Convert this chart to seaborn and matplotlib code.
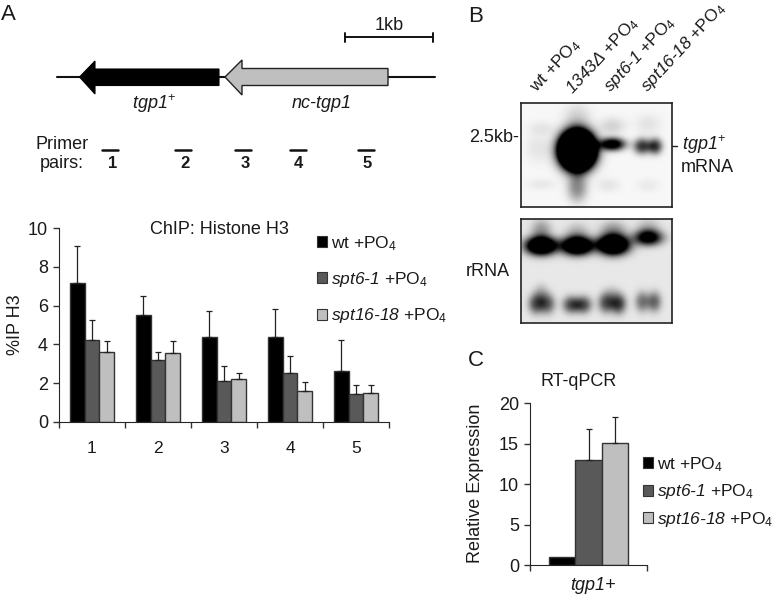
import numpy as np
import pandas as pd
import seaborn as sns
import matplotlib
matplotlib.use("Agg")
import matplotlib.pyplot as plt
from matplotlib.patches import Polygon, Rectangle

W, H = 777, 596

# panel A
primers = ["1", "2", "3", "4", "5"]
strain_labels = ["wt +PO$_4$", "$\\mathcal{spt6\u20101}$ +PO$_4$", "$\\mathcal{spt16\u201018}$ +PO$_4$"]
wt_ip = [7.15, 5.5, 4.4, 4.4, 2.6]
spt6_ip = [4.25, 3.2, 2.1, 2.5, 1.45]
spt16_ip = [3.6, 3.55, 2.2, 1.6, 1.5]
wt_err = [1.95, 1.0, 1.3, 1.45, 1.6]
spt6_err = [1.0, 0.4, 0.8, 0.9, 0.45]
spt16_err = [0.55, 0.6, 0.3, 0.45, 0.4]

# panel C
gene = ["tgp1+"]
expr = [1.0, 13.0, 15.1]
expr_err = [0.0, 3.8, 3.2]

bar_colors = ["#000000", "#595959", "#BFBFBF"]

# blot bands: lane x, y, sigma x, sigma y, strength (figure pixels)
mrna_bands = [(577, 150, 11, 12, 6.0), (612, 144, 9, 4.5, 1.2),
              (642, 146, 6, 5.5, 0.75), (655, 146, 5, 5.5, 0.75),
              (577, 187, 7, 10, 0.42), (577, 118, 9, 10, 0.14), (612, 126, 9, 6, 0.14),
              (648, 124, 9, 7, 0.08), (541, 128, 9, 5, 0.07), (538, 148, 9, 10, 0.07),
              (541, 184, 10, 4, 0.06), (608, 185, 8, 5, 0.07), (648, 185, 8, 5, 0.05)]
rrna_bands = [(541, 246, 11, 6.5, 1.7), (577, 246, 11, 6.5, 1.7), (613, 245, 11, 7, 1.9),
              (648, 238, 10, 5.5, 1.1), (541, 230, 7, 7, 0.3), (577, 232, 8, 6, 0.2),
              (613, 230, 9, 6, 0.3), (648, 228, 8, 6, 0.2),
              (536, 304, 5.5, 7, 0.6), (547, 304, 5.5, 7, 0.55), (571, 305, 6, 6, 0.6), (583, 305, 6, 6, 0.6),
              (606, 303, 5.5, 7, 0.6), (618, 304, 5.5, 7, 0.7), (642, 302, 5, 7, 0.45), (654, 302, 5, 7, 0.5),
              (541, 293, 5, 6, 0.2), (612, 293, 5, 5, 0.12)]

FS = 13
LEG_FS = 12.5


def px_axes(fig, x0, y0, x1, y1, **kw):
    # y counted from the top of the picture
    return fig.add_axes([x0 / W, 1 - y1 / H, (x1 - x0) / W, (y1 - y0) / H], **kw)


def grouped_bars(ax, df, x, y, errs, width):
    sns.barplot(data=df, x=x, y=y, hue="strain", hue_order=strain_labels, palette=bar_colors,
                width=width, gap=0, errorbar=None, edgecolor="#333333", linewidth=1,
                saturation=1, legend=False, ax=ax)
    # container order is the hue order
    for bars, err in zip(ax.containers, errs):
        for patch, e in zip(bars, err):
            if e > 0:
                cx = patch.get_x() + patch.get_width() / 2
                ax.errorbar(cx, patch.get_height(), yerr=[[0], [e]], color="#222222",
                            elinewidth=0.9, capsize=2.2, capthick=0.9, zorder=1)


def add_legend(ax, overlay, x, y, spacing):
    handles = [Rectangle((0, 0), 1, 1, fc=c, ec="#333333", lw=0.8) for c in bar_colors]
    ax.legend(handles, strain_labels, loc="upper left", bbox_to_anchor=(x, y),
              bbox_transform=overlay.transData, frameon=False, fontsize=LEG_FS, borderpad=0,
              borderaxespad=0, labelspacing=spacing, handlelength=0.6, handleheight=0.6,
              handletextpad=0.2)


def blot(fig, x0, y0, x1, y1, bands, bg):
    ax = px_axes(fig, x0, y0, x1, y1)
    xx, yy = np.meshgrid(np.arange(x0, x1, 0.5), np.arange(y0, y1, 0.5))
    img = np.full(xx.shape, bg)
    for bx, by, sx, sy, amp in bands:
        r2 = ((xx - bx) / sx) ** 2 / 2 + ((yy - by) / sy) ** 2 / 2
        img = img + amp * np.exp(-r2 ** 1.15)
    ax.imshow(np.clip(img, 0, 1), cmap="gray_r", vmin=0, vmax=1, aspect="auto",
              extent=[x0, x1, y1, y0], interpolation="bilinear")
    ax.set_xticks([])
    ax.set_yticks([])
    for s in ax.spines.values():
        s.set_visible(True)
        s.set_linewidth(1.2)
        s.set_color("#222222")


sns.set_style("ticks")
plt.rcParams["font.family"] = ["Liberation Sans", "DejaVu Sans"]
plt.rcParams["mathtext.fontset"] = "custom"
plt.rcParams["mathtext.rm"] = "Liberation Sans"
plt.rcParams["mathtext.it"] = "Liberation Sans:italic"
plt.rcParams["mathtext.cal"] = "Liberation Sans:italic"
plt.rcParams["mathtext.bf"] = "Liberation Sans:bold"
plt.rcParams["text.color"] = "#1a1a1a"

fig = plt.figure(figsize=(W / 100, H / 100), dpi=100)

# overlay in picture pixels for the schematic and free labels
ov = fig.add_axes([0, 0, 1, 1], zorder=5)
ov.set_xlim(0, W)
ov.set_ylim(H, 0)
ov.axis("off")
ov.patch.set_alpha(0)

# --- A: bars
df_a = pd.DataFrame({
    "primer": primers * 3,
    "strain": np.repeat(strain_labels, 5),
    "ip": wt_ip + spt6_ip + spt16_ip,
})
ax_a = px_axes(fig, 59, 228.3, 389, 421.7)
grouped_bars(ax_a, df_a, "primer", "ip", [wt_err, spt6_err, spt16_err], 0.68)
ax_a.set_xlim(-0.5, 4.5)
ax_a.set_ylim(0, 10)
ax_a.set_yticks([0, 2, 4, 6, 8, 10])
ax_a.set_xticks(np.arange(-0.5, 5), minor=True)
ax_a.tick_params(axis="x", which="major", length=0, pad=14, labelsize=12.5, colors="#1a1a1a")
ax_a.tick_params(axis="x", which="minor", length=4, width=1, direction="out", color="#333333")
ax_a.tick_params(axis="y", length=4, width=1, pad=4, labelsize=FS, color="#333333", labelcolor="#1a1a1a")
ax_a.set_xlabel("")
ax_a.set_ylabel("")
sns.despine(ax=ax_a)
add_legend(ax_a, ov, 317, 234, 1.0)
ov.text(219, 230, "ChIP: Histone H3", ha="center", va="center", fontsize=FS)
ov.text(15, 325, "%IP H3", rotation=90, ha="center", va="center", fontsize=FS)

# --- C: bars
df_c = pd.DataFrame({"gene": gene * 3, "strain": strain_labels, "expr": expr})
ax_c = px_axes(fig, 530, 403, 647, 565.3)
grouped_bars(ax_c, df_c, "gene", "expr", [[e] for e in expr_err], 0.67)
ax_c.set_xlim(-0.5, 0.5)
ax_c.set_ylim(0, 20)
ax_c.set_yticks([0, 5, 10, 15, 20])
ax_c.set_xticks([])
ax_c.set_xticks([-0.5, 0.5], minor=True)
ax_c.tick_params(axis="x", which="minor", length=4, width=1, direction="out", color="#333333")
ax_c.tick_params(axis="y", length=4, width=1, pad=4, labelsize=FS, color="#333333", labelcolor="#1a1a1a")
ax_c.set_xlabel("")
ax_c.set_ylabel("")
sns.despine(ax=ax_c)
add_legend(ax_c, ov, 643, 455, 0.5)
ov.text(579, 382, "RT-qPCR", ha="center", va="center", fontsize=FS)
ov.text(476, 483, "Relative Expression", rotation=90, ha="center", va="center", fontsize=FS)
ov.text(593, 586, "tgp1+", style="italic", ha="center", va="center", fontsize=FS)

# --- B: blots
blot(fig, 521, 103, 672, 207, mrna_bands, 0.03)
blot(fig, 521, 218.5, 672, 322.5, rrna_bands, 0.09)

blot_labels = ["wt +PO$_4$", "$\\mathcal{1343\u0394}$ +PO$_4$", "$\\mathcal{spt6\u20101}$ +PO$_4$",
               "$\\mathcal{spt16\u201018}$ +PO$_4$"]
for (lx, ly), lab in zip([(537, 93), (573, 95), (610, 93), (647, 93)], blot_labels):
    ov.text(lx, ly, lab, rotation=47, rotation_mode="anchor", ha="left", va="baseline", fontsize=12.4)
ov.text(519, 137, "2.5kb-", ha="right", va="center", fontsize=FS)
ov.text(682, 145, "$\\mathcal{tgp1}^{+}$", ha="left", va="center", fontsize=FS)
ov.plot([672, 677], [146, 146], color="#222222", lw=1)
ov.text(681, 167, "mRNA", ha="left", va="center", fontsize=FS)
ov.text(466, 272, "rRNA", ha="left", va="center", fontsize=FS)

# --- A: gene schematic
ov.plot([57, 435], [77, 77], color="#111111", lw=1.5, zorder=1)
ov.add_patch(Polygon([(219, 69), (95, 69), (95, 61), (79.5, 77), (95, 94), (95, 85.5), (219, 85.5)],
                     closed=True, fc="black", ec="black", lw=0.8, zorder=2))
ov.add_patch(Polygon([(388, 68.5), (242, 68.5), (242, 60), (225, 77), (242, 95), (242, 85.5), (388, 85.5)],
                     closed=True, fc="#BFBFBF", ec="#222222", lw=1, zorder=2))
ov.plot([345, 433], [37, 37], color="#111111", lw=1.4)
for sx in [345, 433]:
    ov.plot([sx, sx], [33, 42], color="#111111", lw=1.4)
ov.text(389, 26, "1kb", ha="center", va="center", fontsize=FS)
ov.text(154, 104, "$\\mathcal{tgp1}^{+}$", ha="center", va="center", fontsize=FS)
ov.text(322, 104, "nc-tgp1", style="italic", ha="center", va="center", fontsize=FS)
ov.text(62, 154, "Primer\npairs:", ha="center", va="center", fontsize=FS, linespacing=1.1)
for (a, b), n, nx in zip([(102, 118), (175, 191), (235, 251), (290, 306), (358, 374)], primers,
                         [113, 185, 245, 298, 367]):
    ov.plot([a, b], [150, 150], color="#111111", lw=1.8)
    ov.text(nx, 163, n, ha="center", va="center", fontsize=12, fontweight="bold")

# panel letters
for lab, lx, ly in [("A", 8, 15), ("B", 476, 17), ("C", 476, 361)]:
    ov.text(lx, ly, lab, ha="center", va="center", fontsize=16)

fig.savefig("out.png", dpi=100)
